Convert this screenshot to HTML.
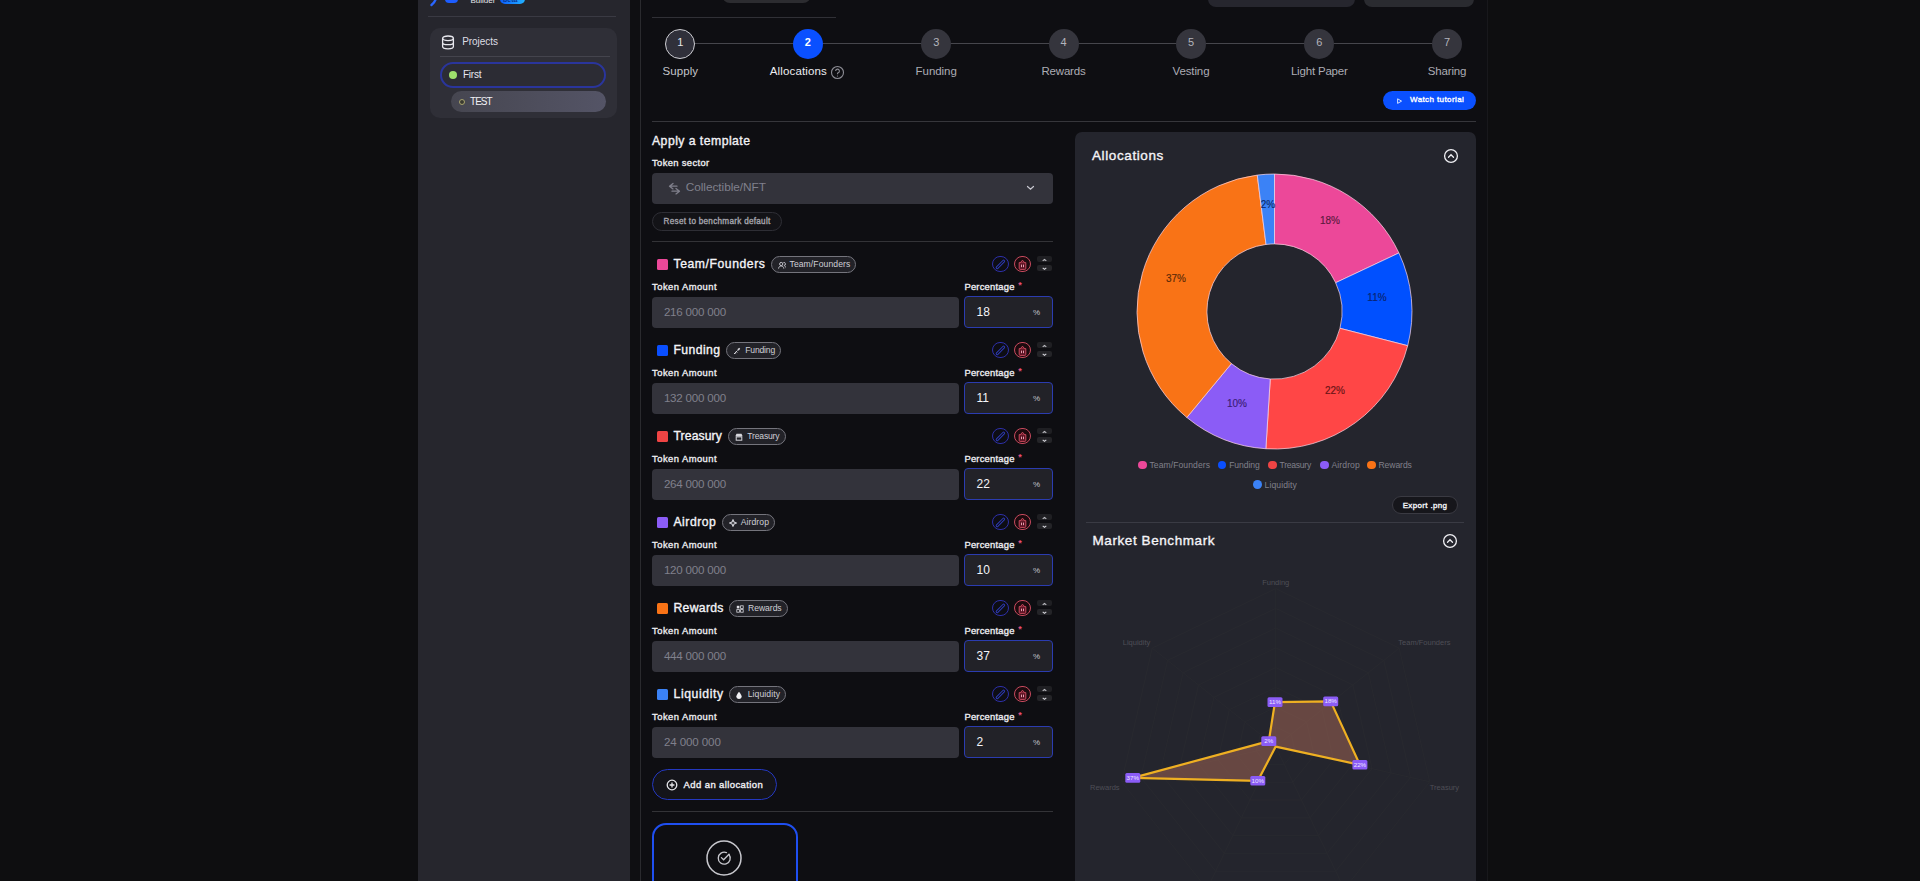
<!DOCTYPE html>
<html><head><meta charset="utf-8"><style>
html,body{margin:0;padding:0;width:1920px;height:881px;overflow:hidden;background:#0e0e10}
body{position:relative;font-family:"Liberation Sans",sans-serif}
.a{position:absolute}
.t{position:absolute;white-space:nowrap;line-height:1}
</style></head><body>
<div class="a" style="left:0.00px;top:0.00px;width:418.00px;height:881.00px;background:#0e0e10"></div>
<div class="a" style="left:418.00px;top:0.00px;width:211.50px;height:881.00px;background:#26262d"></div>
<div class="a" style="left:629.50px;top:0.00px;width:10.50px;height:881.00px;background:#0f0f12"></div>
<div class="a" style="left:640.00px;top:0.00px;width:1.00px;height:881.00px;background:#2a2a2e"></div>
<div class="a" style="left:641.00px;top:0.00px;width:846.00px;height:881.00px;background:#0e0e12"></div>
<div class="a" style="left:1487.00px;top:0.00px;width:1.00px;height:881.00px;background:#18181c"></div>
<div class="a" style="left:1488.00px;top:0.00px;width:432.00px;height:881.00px;background:#0e0e10"></div>
<svg class="a" style="left:425.00px;top:-10.00px;" width="120" height="20" viewBox="0 0 120 20"><path d="M12 3 C11.5 9 10 12.5 6.5 15" stroke="#2a66ff" stroke-width="2.4" fill="none" stroke-linecap="round"/></svg>
<div class="a" style="left:445.00px;top:-10.00px;width:13.00px;height:13.00px;background:#1d5dff;border-radius:0 0 4px 4px"></div>
<div class="t" style="left:470.50px;top:-2.57px;font-size:8px;color:#e6e6ea;">Builder</div>
<div class="a" style="left:500.00px;top:-7.00px;width:25.00px;height:11.00px;background:linear-gradient(90deg,#0b5cff,#22b2ff);border-radius:5px"></div>
<div class="t" style="left:503.00px;top:-3.73px;font-size:7px;color:#0a3690;font-weight:700;">beta</div>
<div class="a" style="left:428.00px;top:16.00px;width:188.00px;height:1.00px;background:#3a3a43"></div>
<div class="a" style="left:430.40px;top:28.30px;width:187.10px;height:90.00px;background:#2f2f37;border-radius:10px"></div>
<svg class="a" style="left:441.00px;top:35.00px;" width="14" height="15" viewBox="0 0 14 15"><ellipse cx="7" cy="3.3" rx="5.4" ry="2.3" stroke="#e8e8ee" stroke-width="1.3" fill="none"/><path d="M1.6 3.3v8.2c0 1.3 2.4 2.3 5.4 2.3s5.4-1 5.4-2.3V3.3M1.6 7.4c0 1.3 2.4 2.3 5.4 2.3s5.4-1 5.4-2.3" stroke="#e8e8ee" stroke-width="1.3" fill="none"/></svg>
<div class="t" style="left:462.20px;top:36.83px;font-size:10px;color:#dedee4;letter-spacing:-0.046px;">Projects</div>
<div class="a" style="left:440.00px;top:56.00px;width:170.00px;height:1.00px;background:#44444d"></div>
<div class="a" style="left:440.30px;top:61.70px;width:165.90px;height:26.30px;background:#2c2c34;border:2px solid #2a359c;border-radius:13px;box-sizing:border-box"></div>
<div class="a" style="left:449.00px;top:71.00px;width:8.20px;height:8.20px;background:#9ee06c;border-radius:50%"></div>
<div class="t" style="left:462.90px;top:70.13px;font-size:10px;color:#e8e8ee;letter-spacing:-0.185px;">First</div>
<div class="a" style="left:451.20px;top:91.00px;width:155.00px;height:21.40px;background:linear-gradient(90deg,#464650,#545466);border-radius:11px"></div>
<div class="a" style="left:458.70px;top:98.60px;width:6.00px;height:6.00px;background:#3a3a30;border:1.5px solid #a7a36e;border-radius:50%;box-sizing:border-box"></div>
<div class="t" style="left:470.00px;top:96.83px;font-size:10px;color:#f0f0f4;letter-spacing:-0.953px;">TEST</div>
<div class="a" style="left:722.00px;top:-20.00px;width:89.00px;height:23.00px;background:#2c2c30;border-radius:8px"></div>
<div class="a" style="left:1208.00px;top:-20.00px;width:147.00px;height:27.30px;background:#26262e;border-radius:8px"></div>
<div class="a" style="left:1364.00px;top:-20.00px;width:110.00px;height:27.00px;background:#2a2b30;border-radius:8px"></div>
<div class="a" style="left:652.00px;top:17.00px;width:184.00px;height:1.00px;background:#303036"></div>
<div class="a" style="left:680.00px;top:43.00px;width:767.00px;height:1.00px;background:#46464c"></div>
<div class="a" style="left:665.10px;top:28.60px;width:30.40px;height:30.40px;background:#30303a;border:1.7px solid #cdcdd2;border-radius:50%;box-sizing:border-box"></div>
<div class="t" style="left:480.30px;width:400px;text-align:center;top:37.09px;font-size:11px;color:#e6e6ea;">1</div>
<div class="t" style="left:480.30px;width:400px;text-align:center;top:66.06px;font-size:11.5px;color:#c4c4ca;letter-spacing:0.067px;">Supply</div>
<div class="a" style="left:792.60px;top:28.60px;width:30.40px;height:30.40px;background:#0a50ff;border-radius:50%"></div>
<div class="t" style="left:607.80px;width:400px;text-align:center;top:37.09px;font-size:11px;color:#ffffff;font-weight:700;">2</div>
<div class="t" style="left:598.40px;width:400px;text-align:center;top:66.06px;font-size:11.5px;color:#ececf0;letter-spacing:0.139px;">Allocations</div>
<svg class="a" style="left:830.00px;top:65.00px;" width="15" height="15" viewBox="0 0 15 15"><circle cx="7.5" cy="7.5" r="6" stroke="#8c8c94" stroke-width="1.1" fill="none"/><path d="M5.6 6a1.9 1.9 0 1 1 2.6 1.8c-.5.2-.7.5-.7 1v.5" stroke="#8c8c94" stroke-width="1.1" fill="none"/><circle cx="7.5" cy="11" r=".6" fill="#8c8c94"/></svg>
<div class="a" style="left:921.20px;top:28.80px;width:30.00px;height:30.00px;background:#35353d;border-radius:50%"></div>
<div class="t" style="left:736.20px;width:400px;text-align:center;top:37.09px;font-size:11px;color:#b4b4bc;">3</div>
<div class="t" style="left:736.20px;width:400px;text-align:center;top:66.06px;font-size:11.5px;color:#acacb4;letter-spacing:-0.060px;">Funding</div>
<div class="a" style="left:1048.50px;top:28.80px;width:30.00px;height:30.00px;background:#35353d;border-radius:50%"></div>
<div class="t" style="left:863.50px;width:400px;text-align:center;top:37.09px;font-size:11px;color:#b4b4bc;">4</div>
<div class="t" style="left:863.50px;width:400px;text-align:center;top:66.06px;font-size:11.5px;color:#acacb4;letter-spacing:-0.180px;">Rewards</div>
<div class="a" style="left:1176.00px;top:28.80px;width:30.00px;height:30.00px;background:#35353d;border-radius:50%"></div>
<div class="t" style="left:991.00px;width:400px;text-align:center;top:37.09px;font-size:11px;color:#b4b4bc;">5</div>
<div class="t" style="left:991.00px;width:400px;text-align:center;top:66.06px;font-size:11.5px;color:#acacb4;letter-spacing:-0.121px;">Vesting</div>
<div class="a" style="left:1304.30px;top:28.80px;width:30.00px;height:30.00px;background:#35353d;border-radius:50%"></div>
<div class="t" style="left:1119.30px;width:400px;text-align:center;top:37.09px;font-size:11px;color:#b4b4bc;">6</div>
<div class="t" style="left:1119.30px;width:400px;text-align:center;top:66.06px;font-size:11.5px;color:#acacb4;letter-spacing:-0.182px;">Light Paper</div>
<div class="a" style="left:1432.00px;top:28.80px;width:30.00px;height:30.00px;background:#35353d;border-radius:50%"></div>
<div class="t" style="left:1247.00px;width:400px;text-align:center;top:37.09px;font-size:11px;color:#b4b4bc;">7</div>
<div class="t" style="left:1247.00px;width:400px;text-align:center;top:66.06px;font-size:11.5px;color:#acacb4;letter-spacing:-0.157px;">Sharing</div>
<div class="a" style="left:1383.00px;top:91.30px;width:92.60px;height:18.70px;background:#0a50ff;border-radius:10px"></div>
<svg class="a" style="left:1396.00px;top:97.00px;" width="8" height="8" viewBox="0 0 8 8"><path d="M1.6 1.8 L5.6 4.1 L1.6 6.4 Z" stroke="#cfe0ff" stroke-width="1" fill="none" stroke-linejoin="round"/></svg>
<div class="t" style="left:1410.00px;top:95.73px;font-size:8px;color:#ffffff;letter-spacing:0.399px;-webkit-text-stroke:0.35px #ffffff;">Watch tutorial</div>
<div class="a" style="left:652.00px;top:120.80px;width:824.00px;height:1.00px;background:#36363b"></div>
<div class="t" style="left:652.00px;top:134.83px;font-size:12.25px;color:#f2f2f6;letter-spacing:0.450px;-webkit-text-stroke:0.35px #f2f2f6;">Apply a template</div>
<div class="t" style="left:652.00px;top:158.44px;font-size:9.4px;color:#ececf0;letter-spacing:0.364px;-webkit-text-stroke:0.35px #ececf0;">Token sector</div>
<div class="a" style="left:652.00px;top:173.00px;width:401.00px;height:31.00px;background:#33333b;border-radius:4px"></div>
<svg class="a" style="left:667.00px;top:181.00px;" width="15" height="14" viewBox="0 0 15 14"><path d="M6 2.5L2.5 5.2L6 7.9M2.5 5.2h7.5M9 7.5l3.5 2.7L9 12.9M12.5 10.2H5" stroke="#80808c" stroke-width="1.3" fill="none" stroke-linecap="round" stroke-linejoin="round"/></svg>
<div class="t" style="left:685.70px;top:182.41px;font-size:11.8px;color:#80808c;letter-spacing:-0.025px;">Collectible/NFT</div>
<svg class="a" style="left:1025.00px;top:184.00px;" width="11" height="8" viewBox="0 0 11 8"><path d="M2.5 2.5l3 2.8L8.5 2.5" stroke="#c8c8d0" stroke-width="1.2" fill="none" stroke-linecap="round"/></svg>
<div class="a" style="left:652.10px;top:212.10px;width:130.10px;height:18.70px;background:#131317;border:1px solid #2e2e35;border-radius:9.5px;box-sizing:border-box"></div>
<div class="t" style="left:663.60px;top:217.70px;font-size:8.15px;color:#a4a4ac;letter-spacing:0.293px;-webkit-text-stroke:0.35px #a4a4ac;">Reset to benchmark default</div>
<div class="a" style="left:652.00px;top:241.40px;width:401.00px;height:1.00px;background:#333337"></div>
<div class="a" style="left:657.10px;top:258.60px;width:11.00px;height:11.00px;background:#ec4899;border-radius:1.5px"></div>
<div class="t" style="left:673.50px;top:258.07px;font-size:12.2px;color:#f4f4f8;letter-spacing:0.561px;-webkit-text-stroke:0.35px #f4f4f8;">Team/Founders</div>
<div class="a" style="left:771.00px;top:256.00px;width:85.30px;height:16.90px;background:#222228;border:1px solid #74747c;border-radius:9px;box-sizing:border-box"></div>
<svg class="a" style="left:777.80px;top:260.50px;" width="8" height="8" viewBox="0 0 8 8"><circle cx="3.2" cy="3" r="1.6" stroke="#d0d0d8" stroke-width="0.9" fill="none"/><path d="M0.6 7.6c0-1.6 1.2-2.6 2.6-2.6s2.6 1 2.6 2.6" stroke="#d0d0d8" stroke-width="0.9" fill="none"/><path d="M5.4 1.6a1.5 1.5 0 1 1 0.5 2.9M6.6 5.2c1 .3 1.8 1.1 1.8 2.4" stroke="#d0d0d8" stroke-width="0.9" fill="none"/></svg>
<div class="t" style="left:789.50px;top:260.32px;font-size:8.6px;color:#cfcfd6;letter-spacing:0.087px;">Team/Founders</div>
<div class="a" style="left:992.40px;top:255.60px;width:16.60px;height:16.60px;border:1.1px solid #2e30a8;border-radius:50%;box-sizing:border-box;background:#0d0d14"></div>
<svg class="a" style="left:992.40px;top:255.60px;" width="17" height="17" viewBox="0 0 17 17"><path d="M5.2 11.6 L11.6 5.2" stroke="#2e3cb8" stroke-width="3" stroke-linecap="round"/><path d="M5.2 11.6 L11.6 5.2" stroke="#0d0d14" stroke-width="1.1" stroke-linecap="round"/></svg>
<div class="a" style="left:1014.20px;top:255.60px;width:16.80px;height:16.80px;border:1.1px solid #c84a5e;border-radius:50%;box-sizing:border-box;background:#1c0a0e"></div>
<svg class="a" style="left:1014.20px;top:255.60px;" width="17" height="17" viewBox="0 0 17 17"><path d="M5.2 6.6h6.6v5.8a1 1 0 0 1-1 1H6.2a1 1 0 0 1-1-1z" stroke="#c84a5e" stroke-width="1" fill="#5a1222"/><path d="M6.4 6.6 L8.5 4.2 L10.6 6.6" stroke="#c84a5e" stroke-width="1" fill="#5a1222"/><path d="M7.5 8.6v2.6M9.5 8.6v2.6" stroke="#e8a0b0" stroke-width="1"/></svg>
<div class="a" style="left:1037.00px;top:255.80px;width:15.00px;height:6.60px;background:#1f1f23;border-radius:2px"></div>
<div class="a" style="left:1037.00px;top:264.90px;width:15.00px;height:6.60px;background:#242428;border-radius:2px"></div>
<svg class="a" style="left:1037.00px;top:255.50px;" width="15" height="17" viewBox="0 0 15 17"><path d="M5.7 4.9l1.8 -1.5l1.8 1.5" stroke="#c0c0c6" stroke-width="1.1" fill="none"/><path d="M5.7 11.9l1.8 1.5l1.8 -1.5" stroke="#d8d8de" stroke-width="1.1" fill="none"/></svg>
<div class="t" style="left:652.10px;top:282.04px;font-size:9.4px;color:#ececf0;letter-spacing:0.457px;-webkit-text-stroke:0.35px #ececf0;">Token Amount</div>
<div class="t" style="left:964.40px;top:282.04px;font-size:9.4px;color:#ececf0;letter-spacing:0.236px;-webkit-text-stroke:0.35px #ececf0;">Percentage</div>
<div class="t" style="left:820.00px;width:400px;text-align:center;top:281.18px;font-size:9px;color:#e8507a;font-weight:700;">*</div>
<div class="a" style="left:652.00px;top:296.60px;width:306.50px;height:31.40px;background:#33333b;border-radius:4px"></div>
<div class="t" style="left:663.90px;top:305.98px;font-size:11.6px;color:#80808c;letter-spacing:-0.221px;">216 000 000</div>
<div class="a" style="left:964.00px;top:296.30px;width:89.00px;height:31.50px;background:#222228;border:1.25px solid #2b3cb0;border-radius:4px;box-sizing:border-box"></div>
<div class="t" style="left:976.50px;top:305.64px;font-size:12px;color:#f4f4f8;">18</div>
<div class="t" style="left:1032.90px;top:308.83px;font-size:8px;color:#c4c4cc;">%</div>
<div class="a" style="left:657.10px;top:344.60px;width:11.00px;height:11.00px;background:#0a4fff;border-radius:1.5px"></div>
<div class="t" style="left:673.50px;top:344.07px;font-size:12.2px;color:#f4f4f8;letter-spacing:0.419px;-webkit-text-stroke:0.35px #f4f4f8;">Funding</div>
<div class="a" style="left:725.80px;top:342.00px;width:55.45px;height:16.90px;background:#222228;border:1px solid #74747c;border-radius:9px;box-sizing:border-box"></div>
<svg class="a" style="left:732.60px;top:346.50px;" width="8" height="8" viewBox="0 0 8 8"><path d="M1 7L4.6 3.4M2.2 5.8l.9.9M3.3 4.7l.9.9" stroke="#d6d6dc" stroke-width="1" fill="none"/><path d="M4.3 2.3L6.3 0.8L7.2 1.7L5.7 3.7Z" fill="#d6d6dc"/></svg>
<div class="t" style="left:745.25px;top:346.32px;font-size:8.6px;color:#cfcfd6;letter-spacing:-0.180px;">Funding</div>
<div class="a" style="left:992.40px;top:341.60px;width:16.60px;height:16.60px;border:1.1px solid #2e30a8;border-radius:50%;box-sizing:border-box;background:#0d0d14"></div>
<svg class="a" style="left:992.40px;top:341.60px;" width="17" height="17" viewBox="0 0 17 17"><path d="M5.2 11.6 L11.6 5.2" stroke="#2e3cb8" stroke-width="3" stroke-linecap="round"/><path d="M5.2 11.6 L11.6 5.2" stroke="#0d0d14" stroke-width="1.1" stroke-linecap="round"/></svg>
<div class="a" style="left:1014.20px;top:341.60px;width:16.80px;height:16.80px;border:1.1px solid #c84a5e;border-radius:50%;box-sizing:border-box;background:#1c0a0e"></div>
<svg class="a" style="left:1014.20px;top:341.60px;" width="17" height="17" viewBox="0 0 17 17"><path d="M5.2 6.6h6.6v5.8a1 1 0 0 1-1 1H6.2a1 1 0 0 1-1-1z" stroke="#c84a5e" stroke-width="1" fill="#5a1222"/><path d="M6.4 6.6 L8.5 4.2 L10.6 6.6" stroke="#c84a5e" stroke-width="1" fill="#5a1222"/><path d="M7.5 8.6v2.6M9.5 8.6v2.6" stroke="#e8a0b0" stroke-width="1"/></svg>
<div class="a" style="left:1037.00px;top:341.80px;width:15.00px;height:6.60px;background:#1f1f23;border-radius:2px"></div>
<div class="a" style="left:1037.00px;top:350.90px;width:15.00px;height:6.60px;background:#242428;border-radius:2px"></div>
<svg class="a" style="left:1037.00px;top:341.50px;" width="15" height="17" viewBox="0 0 15 17"><path d="M5.7 4.9l1.8 -1.5l1.8 1.5" stroke="#c0c0c6" stroke-width="1.1" fill="none"/><path d="M5.7 11.9l1.8 1.5l1.8 -1.5" stroke="#d8d8de" stroke-width="1.1" fill="none"/></svg>
<div class="t" style="left:652.10px;top:368.04px;font-size:9.4px;color:#ececf0;letter-spacing:0.457px;-webkit-text-stroke:0.35px #ececf0;">Token Amount</div>
<div class="t" style="left:964.40px;top:368.04px;font-size:9.4px;color:#ececf0;letter-spacing:0.236px;-webkit-text-stroke:0.35px #ececf0;">Percentage</div>
<div class="t" style="left:820.00px;width:400px;text-align:center;top:367.18px;font-size:9px;color:#e8507a;font-weight:700;">*</div>
<div class="a" style="left:652.00px;top:382.60px;width:306.50px;height:31.40px;background:#33333b;border-radius:4px"></div>
<div class="t" style="left:663.90px;top:391.98px;font-size:11.6px;color:#80808c;letter-spacing:-0.221px;">132 000 000</div>
<div class="a" style="left:964.00px;top:382.30px;width:89.00px;height:31.50px;background:#222228;border:1.25px solid #2b3cb0;border-radius:4px;box-sizing:border-box"></div>
<div class="t" style="left:976.50px;top:391.64px;font-size:12px;color:#f4f4f8;">11</div>
<div class="t" style="left:1032.90px;top:394.83px;font-size:8px;color:#c4c4cc;">%</div>
<div class="a" style="left:657.10px;top:430.60px;width:11.00px;height:11.00px;background:#ef4444;border-radius:1.5px"></div>
<div class="t" style="left:673.50px;top:430.07px;font-size:12.2px;color:#f4f4f8;letter-spacing:0.103px;-webkit-text-stroke:0.35px #f4f4f8;">Treasury</div>
<div class="a" style="left:728.00px;top:428.00px;width:57.60px;height:16.90px;background:#222228;border:1px solid #74747c;border-radius:9px;box-sizing:border-box"></div>
<svg class="a" style="left:734.80px;top:432.50px;" width="8" height="8" viewBox="0 0 8 8"><path d="M0.8 2.2L1.5 0.8h5l.7 1.4v1.2H0.8Z" fill="#d6d6dc"/><rect x="1.2" y="3.9" width="5.6" height="3.3" fill="none" stroke="#d6d6dc" stroke-width="1"/></svg>
<div class="t" style="left:747.30px;top:432.32px;font-size:8.6px;color:#cfcfd6;letter-spacing:-0.187px;">Treasury</div>
<div class="a" style="left:992.40px;top:427.60px;width:16.60px;height:16.60px;border:1.1px solid #2e30a8;border-radius:50%;box-sizing:border-box;background:#0d0d14"></div>
<svg class="a" style="left:992.40px;top:427.60px;" width="17" height="17" viewBox="0 0 17 17"><path d="M5.2 11.6 L11.6 5.2" stroke="#2e3cb8" stroke-width="3" stroke-linecap="round"/><path d="M5.2 11.6 L11.6 5.2" stroke="#0d0d14" stroke-width="1.1" stroke-linecap="round"/></svg>
<div class="a" style="left:1014.20px;top:427.60px;width:16.80px;height:16.80px;border:1.1px solid #c84a5e;border-radius:50%;box-sizing:border-box;background:#1c0a0e"></div>
<svg class="a" style="left:1014.20px;top:427.60px;" width="17" height="17" viewBox="0 0 17 17"><path d="M5.2 6.6h6.6v5.8a1 1 0 0 1-1 1H6.2a1 1 0 0 1-1-1z" stroke="#c84a5e" stroke-width="1" fill="#5a1222"/><path d="M6.4 6.6 L8.5 4.2 L10.6 6.6" stroke="#c84a5e" stroke-width="1" fill="#5a1222"/><path d="M7.5 8.6v2.6M9.5 8.6v2.6" stroke="#e8a0b0" stroke-width="1"/></svg>
<div class="a" style="left:1037.00px;top:427.80px;width:15.00px;height:6.60px;background:#1f1f23;border-radius:2px"></div>
<div class="a" style="left:1037.00px;top:436.90px;width:15.00px;height:6.60px;background:#242428;border-radius:2px"></div>
<svg class="a" style="left:1037.00px;top:427.50px;" width="15" height="17" viewBox="0 0 15 17"><path d="M5.7 4.9l1.8 -1.5l1.8 1.5" stroke="#c0c0c6" stroke-width="1.1" fill="none"/><path d="M5.7 11.9l1.8 1.5l1.8 -1.5" stroke="#d8d8de" stroke-width="1.1" fill="none"/></svg>
<div class="t" style="left:652.10px;top:454.04px;font-size:9.4px;color:#ececf0;letter-spacing:0.457px;-webkit-text-stroke:0.35px #ececf0;">Token Amount</div>
<div class="t" style="left:964.40px;top:454.04px;font-size:9.4px;color:#ececf0;letter-spacing:0.236px;-webkit-text-stroke:0.35px #ececf0;">Percentage</div>
<div class="t" style="left:820.00px;width:400px;text-align:center;top:453.18px;font-size:9px;color:#e8507a;font-weight:700;">*</div>
<div class="a" style="left:652.00px;top:468.60px;width:306.50px;height:31.40px;background:#33333b;border-radius:4px"></div>
<div class="t" style="left:663.90px;top:477.98px;font-size:11.6px;color:#80808c;letter-spacing:-0.221px;">264 000 000</div>
<div class="a" style="left:964.00px;top:468.30px;width:89.00px;height:31.50px;background:#222228;border:1.25px solid #2b3cb0;border-radius:4px;box-sizing:border-box"></div>
<div class="t" style="left:976.50px;top:477.64px;font-size:12px;color:#f4f4f8;">22</div>
<div class="t" style="left:1032.90px;top:480.83px;font-size:8px;color:#c4c4cc;">%</div>
<div class="a" style="left:657.10px;top:516.60px;width:11.00px;height:11.00px;background:#8b5cf6;border-radius:1.5px"></div>
<div class="t" style="left:673.50px;top:516.07px;font-size:12.2px;color:#f4f4f8;letter-spacing:0.495px;-webkit-text-stroke:0.35px #f4f4f8;">Airdrop</div>
<div class="a" style="left:721.90px;top:514.00px;width:53.10px;height:16.90px;background:#222228;border:1px solid #74747c;border-radius:9px;box-sizing:border-box"></div>
<svg class="a" style="left:728.70px;top:518.50px;" width="8" height="8" viewBox="0 0 8 8"><path d="M4 0.6L5 3L7.4 4L5 5L4 7.4L3 5L0.6 4L3 3Z" fill="none" stroke="#d6d6dc" stroke-width="1.1" stroke-linejoin="round"/></svg>
<div class="t" style="left:740.65px;top:518.32px;font-size:8.6px;color:#cfcfd6;letter-spacing:0.104px;">Airdrop</div>
<div class="a" style="left:992.40px;top:513.60px;width:16.60px;height:16.60px;border:1.1px solid #2e30a8;border-radius:50%;box-sizing:border-box;background:#0d0d14"></div>
<svg class="a" style="left:992.40px;top:513.60px;" width="17" height="17" viewBox="0 0 17 17"><path d="M5.2 11.6 L11.6 5.2" stroke="#2e3cb8" stroke-width="3" stroke-linecap="round"/><path d="M5.2 11.6 L11.6 5.2" stroke="#0d0d14" stroke-width="1.1" stroke-linecap="round"/></svg>
<div class="a" style="left:1014.20px;top:513.60px;width:16.80px;height:16.80px;border:1.1px solid #c84a5e;border-radius:50%;box-sizing:border-box;background:#1c0a0e"></div>
<svg class="a" style="left:1014.20px;top:513.60px;" width="17" height="17" viewBox="0 0 17 17"><path d="M5.2 6.6h6.6v5.8a1 1 0 0 1-1 1H6.2a1 1 0 0 1-1-1z" stroke="#c84a5e" stroke-width="1" fill="#5a1222"/><path d="M6.4 6.6 L8.5 4.2 L10.6 6.6" stroke="#c84a5e" stroke-width="1" fill="#5a1222"/><path d="M7.5 8.6v2.6M9.5 8.6v2.6" stroke="#e8a0b0" stroke-width="1"/></svg>
<div class="a" style="left:1037.00px;top:513.80px;width:15.00px;height:6.60px;background:#1f1f23;border-radius:2px"></div>
<div class="a" style="left:1037.00px;top:522.90px;width:15.00px;height:6.60px;background:#242428;border-radius:2px"></div>
<svg class="a" style="left:1037.00px;top:513.50px;" width="15" height="17" viewBox="0 0 15 17"><path d="M5.7 4.9l1.8 -1.5l1.8 1.5" stroke="#c0c0c6" stroke-width="1.1" fill="none"/><path d="M5.7 11.9l1.8 1.5l1.8 -1.5" stroke="#d8d8de" stroke-width="1.1" fill="none"/></svg>
<div class="t" style="left:652.10px;top:540.04px;font-size:9.4px;color:#ececf0;letter-spacing:0.457px;-webkit-text-stroke:0.35px #ececf0;">Token Amount</div>
<div class="t" style="left:964.40px;top:540.04px;font-size:9.4px;color:#ececf0;letter-spacing:0.236px;-webkit-text-stroke:0.35px #ececf0;">Percentage</div>
<div class="t" style="left:820.00px;width:400px;text-align:center;top:539.18px;font-size:9px;color:#e8507a;font-weight:700;">*</div>
<div class="a" style="left:652.00px;top:554.60px;width:306.50px;height:31.40px;background:#33333b;border-radius:4px"></div>
<div class="t" style="left:663.90px;top:563.98px;font-size:11.6px;color:#80808c;letter-spacing:-0.221px;">120 000 000</div>
<div class="a" style="left:964.00px;top:554.30px;width:89.00px;height:31.50px;background:#222228;border:1.25px solid #2b3cb0;border-radius:4px;box-sizing:border-box"></div>
<div class="t" style="left:976.50px;top:563.64px;font-size:12px;color:#f4f4f8;">10</div>
<div class="t" style="left:1032.90px;top:566.83px;font-size:8px;color:#c4c4cc;">%</div>
<div class="a" style="left:657.10px;top:602.60px;width:11.00px;height:11.00px;background:#f97316;border-radius:1.5px"></div>
<div class="t" style="left:673.50px;top:602.07px;font-size:12.2px;color:#f4f4f8;letter-spacing:0.310px;-webkit-text-stroke:0.35px #f4f4f8;">Rewards</div>
<div class="a" style="left:729.20px;top:600.00px;width:58.50px;height:16.90px;background:#222228;border:1px solid #74747c;border-radius:9px;box-sizing:border-box"></div>
<svg class="a" style="left:736.00px;top:604.50px;" width="8" height="8" viewBox="0 0 8 8"><rect x="0.8" y="0.8" width="2.6" height="2.6" fill="#e0e0e6"/><rect x="4.6" y="0.8" width="2.6" height="2.6" fill="none" stroke="#d6d6dc" stroke-width=".8"/><rect x="0.8" y="4.6" width="2.6" height="2.6" fill="none" stroke="#d6d6dc" stroke-width=".8"/><rect x="4.6" y="4.6" width="2.6" height="2.6" fill="none" stroke="#d6d6dc" stroke-width=".8"/></svg>
<div class="t" style="left:748.10px;top:604.32px;font-size:8.6px;color:#cfcfd6;letter-spacing:-0.056px;">Rewards</div>
<div class="a" style="left:992.40px;top:599.60px;width:16.60px;height:16.60px;border:1.1px solid #2e30a8;border-radius:50%;box-sizing:border-box;background:#0d0d14"></div>
<svg class="a" style="left:992.40px;top:599.60px;" width="17" height="17" viewBox="0 0 17 17"><path d="M5.2 11.6 L11.6 5.2" stroke="#2e3cb8" stroke-width="3" stroke-linecap="round"/><path d="M5.2 11.6 L11.6 5.2" stroke="#0d0d14" stroke-width="1.1" stroke-linecap="round"/></svg>
<div class="a" style="left:1014.20px;top:599.60px;width:16.80px;height:16.80px;border:1.1px solid #c84a5e;border-radius:50%;box-sizing:border-box;background:#1c0a0e"></div>
<svg class="a" style="left:1014.20px;top:599.60px;" width="17" height="17" viewBox="0 0 17 17"><path d="M5.2 6.6h6.6v5.8a1 1 0 0 1-1 1H6.2a1 1 0 0 1-1-1z" stroke="#c84a5e" stroke-width="1" fill="#5a1222"/><path d="M6.4 6.6 L8.5 4.2 L10.6 6.6" stroke="#c84a5e" stroke-width="1" fill="#5a1222"/><path d="M7.5 8.6v2.6M9.5 8.6v2.6" stroke="#e8a0b0" stroke-width="1"/></svg>
<div class="a" style="left:1037.00px;top:599.80px;width:15.00px;height:6.60px;background:#1f1f23;border-radius:2px"></div>
<div class="a" style="left:1037.00px;top:608.90px;width:15.00px;height:6.60px;background:#242428;border-radius:2px"></div>
<svg class="a" style="left:1037.00px;top:599.50px;" width="15" height="17" viewBox="0 0 15 17"><path d="M5.7 4.9l1.8 -1.5l1.8 1.5" stroke="#c0c0c6" stroke-width="1.1" fill="none"/><path d="M5.7 11.9l1.8 1.5l1.8 -1.5" stroke="#d8d8de" stroke-width="1.1" fill="none"/></svg>
<div class="t" style="left:652.10px;top:626.04px;font-size:9.4px;color:#ececf0;letter-spacing:0.457px;-webkit-text-stroke:0.35px #ececf0;">Token Amount</div>
<div class="t" style="left:964.40px;top:626.04px;font-size:9.4px;color:#ececf0;letter-spacing:0.236px;-webkit-text-stroke:0.35px #ececf0;">Percentage</div>
<div class="t" style="left:820.00px;width:400px;text-align:center;top:625.18px;font-size:9px;color:#e8507a;font-weight:700;">*</div>
<div class="a" style="left:652.00px;top:640.60px;width:306.50px;height:31.40px;background:#33333b;border-radius:4px"></div>
<div class="t" style="left:663.90px;top:649.98px;font-size:11.6px;color:#80808c;letter-spacing:-0.221px;">444 000 000</div>
<div class="a" style="left:964.00px;top:640.30px;width:89.00px;height:31.50px;background:#222228;border:1.25px solid #2b3cb0;border-radius:4px;box-sizing:border-box"></div>
<div class="t" style="left:976.50px;top:649.64px;font-size:12px;color:#f4f4f8;">37</div>
<div class="t" style="left:1032.90px;top:652.83px;font-size:8px;color:#c4c4cc;">%</div>
<div class="a" style="left:657.10px;top:688.60px;width:11.00px;height:11.00px;background:#3b82f6;border-radius:1.5px"></div>
<div class="t" style="left:673.50px;top:688.07px;font-size:12.2px;color:#f4f4f8;letter-spacing:0.617px;-webkit-text-stroke:0.35px #f4f4f8;">Liquidity</div>
<div class="a" style="left:728.50px;top:686.00px;width:57.50px;height:16.90px;background:#222228;border:1px solid #74747c;border-radius:9px;box-sizing:border-box"></div>
<svg class="a" style="left:735.30px;top:690.50px;" width="8" height="8" viewBox="0 0 8 8"><path d="M4 0.8C4 0.8 1.4 3.8 1.4 5.3a2.6 2.6 0 0 0 5.2 0C6.6 3.8 4 0.8 4 0.8Z" fill="#f0f0f4"/></svg>
<div class="t" style="left:747.70px;top:690.32px;font-size:8.6px;color:#cfcfd6;letter-spacing:0.093px;">Liquidity</div>
<div class="a" style="left:992.40px;top:685.60px;width:16.60px;height:16.60px;border:1.1px solid #2e30a8;border-radius:50%;box-sizing:border-box;background:#0d0d14"></div>
<svg class="a" style="left:992.40px;top:685.60px;" width="17" height="17" viewBox="0 0 17 17"><path d="M5.2 11.6 L11.6 5.2" stroke="#2e3cb8" stroke-width="3" stroke-linecap="round"/><path d="M5.2 11.6 L11.6 5.2" stroke="#0d0d14" stroke-width="1.1" stroke-linecap="round"/></svg>
<div class="a" style="left:1014.20px;top:685.60px;width:16.80px;height:16.80px;border:1.1px solid #c84a5e;border-radius:50%;box-sizing:border-box;background:#1c0a0e"></div>
<svg class="a" style="left:1014.20px;top:685.60px;" width="17" height="17" viewBox="0 0 17 17"><path d="M5.2 6.6h6.6v5.8a1 1 0 0 1-1 1H6.2a1 1 0 0 1-1-1z" stroke="#c84a5e" stroke-width="1" fill="#5a1222"/><path d="M6.4 6.6 L8.5 4.2 L10.6 6.6" stroke="#c84a5e" stroke-width="1" fill="#5a1222"/><path d="M7.5 8.6v2.6M9.5 8.6v2.6" stroke="#e8a0b0" stroke-width="1"/></svg>
<div class="a" style="left:1037.00px;top:685.80px;width:15.00px;height:6.60px;background:#1f1f23;border-radius:2px"></div>
<div class="a" style="left:1037.00px;top:694.90px;width:15.00px;height:6.60px;background:#242428;border-radius:2px"></div>
<svg class="a" style="left:1037.00px;top:685.50px;" width="15" height="17" viewBox="0 0 15 17"><path d="M5.7 4.9l1.8 -1.5l1.8 1.5" stroke="#c0c0c6" stroke-width="1.1" fill="none"/><path d="M5.7 11.9l1.8 1.5l1.8 -1.5" stroke="#d8d8de" stroke-width="1.1" fill="none"/></svg>
<div class="t" style="left:652.10px;top:712.04px;font-size:9.4px;color:#ececf0;letter-spacing:0.457px;-webkit-text-stroke:0.35px #ececf0;">Token Amount</div>
<div class="t" style="left:964.40px;top:712.04px;font-size:9.4px;color:#ececf0;letter-spacing:0.236px;-webkit-text-stroke:0.35px #ececf0;">Percentage</div>
<div class="t" style="left:820.00px;width:400px;text-align:center;top:711.18px;font-size:9px;color:#e8507a;font-weight:700;">*</div>
<div class="a" style="left:652.00px;top:726.60px;width:306.50px;height:31.40px;background:#33333b;border-radius:4px"></div>
<div class="t" style="left:663.90px;top:735.98px;font-size:11.6px;color:#80808c;letter-spacing:-0.118px;">24 000 000</div>
<div class="a" style="left:964.00px;top:726.30px;width:89.00px;height:31.50px;background:#222228;border:1.25px solid #2b3cb0;border-radius:4px;box-sizing:border-box"></div>
<div class="t" style="left:976.50px;top:735.64px;font-size:12px;color:#f4f4f8;">2</div>
<div class="t" style="left:1032.90px;top:738.83px;font-size:8px;color:#c4c4cc;">%</div>
<div class="a" style="left:652.00px;top:769.30px;width:125.00px;height:31.20px;background:#141419;border:1.3px solid #2438c0;border-radius:16px;box-sizing:border-box"></div>
<svg class="a" style="left:666.00px;top:778.50px;" width="12" height="12" viewBox="0 0 12 12"><circle cx="6" cy="6" r="4.8" stroke="#e6e6ea" stroke-width="1.3" fill="none"/><path d="M6 3.6v4.8M3.6 6h4.8" stroke="#e6e6ea" stroke-width="1.3"/></svg>
<div class="t" style="left:683.60px;top:780.36px;font-size:9.5px;color:#f0f0f4;letter-spacing:0.394px;-webkit-text-stroke:0.35px #f0f0f4;">Add an allocation</div>
<div class="a" style="left:652.00px;top:810.80px;width:401.00px;height:1.00px;background:#333337"></div>
<div class="a" style="left:652.00px;top:823.00px;width:145.50px;height:97.00px;border:2px solid #1f4ff0;border-radius:14px;box-sizing:border-box"></div>
<svg class="a" style="left:706.00px;top:839.50px;" width="36" height="36" viewBox="0 0 36 36"><circle cx="18" cy="18" r="17" stroke="#c8c8ce" stroke-width="1.5" fill="none"/><path d="M23 14.5A6 6 0 1 1 20.5 12.6" stroke="#c8c8ce" stroke-width="1.3" fill="none" stroke-linecap="round"/><path d="M15.4 17.6l2.2 2.2l5.4 -5.6" stroke="#c8c8ce" stroke-width="1.3" fill="none" stroke-linecap="round"/></svg>
<div class="a" style="left:1074.80px;top:132.20px;width:401.20px;height:797.80px;background:#24252d;border-radius:7px"></div>
<div class="t" style="left:1092.00px;top:148.97px;font-size:13.5px;color:#f4f4f8;letter-spacing:0.602px;-webkit-text-stroke:0.35px #f4f4f8;">Allocations</div>
<svg class="a" style="left:1442.50px;top:148.20px;" width="16" height="16" viewBox="0 0 16 16"><circle cx="8" cy="8" r="6.4" stroke="#f0f0f4" stroke-width="1.3" fill="none"/><path d="M5.5 9.2L8 6.7l2.5 2.5" stroke="#f0f0f4" stroke-width="1.3" fill="none" stroke-linecap="round"/></svg>
<svg class="a" style="left:1135.20px;top:171.50px;" width="279.0" height="279.0" viewBox="0 0 279.0 279.0"><path d="M139.50 2.00 A137.5 137.5 0 0 1 263.91 80.96 L200.67 110.72 A67.6 67.6 0 0 0 139.50 71.90 Z" fill="#ec4899" stroke="rgba(255,215,230,0.7)" stroke-width="1"/><path d="M263.91 80.96 A137.5 137.5 0 0 1 272.68 173.69 L204.98 156.31 A67.6 67.6 0 0 0 200.67 110.72 Z" fill="#0050ff" stroke="rgba(255,215,230,0.7)" stroke-width="1"/><path d="M272.68 173.69 A137.5 137.5 0 0 1 130.87 276.73 L135.26 206.97 A67.6 67.6 0 0 0 204.98 156.31 Z" fill="#ff4646" stroke="rgba(255,215,230,0.7)" stroke-width="1"/><path d="M130.87 276.73 A137.5 137.5 0 0 1 51.85 245.45 L96.41 191.59 A67.6 67.6 0 0 0 135.26 206.97 Z" fill="#8b5cf6" stroke="rgba(255,215,230,0.7)" stroke-width="1"/><path d="M51.85 245.45 A137.5 137.5 0 0 1 122.27 3.08 L131.03 72.43 A67.6 67.6 0 0 0 96.41 191.59 Z" fill="#f97316" stroke="rgba(255,215,230,0.7)" stroke-width="1"/><path d="M122.27 3.08 A137.5 137.5 0 0 1 139.50 2.00 L139.50 71.90 A67.6 67.6 0 0 0 131.03 72.43 Z" fill="#3b82f6" stroke="rgba(255,215,230,0.7)" stroke-width="1"/></svg>
<div class="t" style="left:1130.00px;width:400px;text-align:center;top:215.53px;font-size:10px;color:#5a1a3d;-webkit-text-stroke:0.15px #5a1a3d;">18%</div>
<div class="t" style="left:1177.00px;width:400px;text-align:center;top:292.53px;font-size:10px;color:#0a2470;-webkit-text-stroke:0.15px #0a2470;">11%</div>
<div class="t" style="left:1135.00px;width:400px;text-align:center;top:385.53px;font-size:10px;color:#6a1416;-webkit-text-stroke:0.15px #6a1416;">22%</div>
<div class="t" style="left:1037.00px;width:400px;text-align:center;top:398.53px;font-size:10px;color:#3a1d75;-webkit-text-stroke:0.15px #3a1d75;">10%</div>
<div class="t" style="left:976.00px;width:400px;text-align:center;top:273.53px;font-size:10px;color:#5a2a08;-webkit-text-stroke:0.15px #5a2a08;">37%</div>
<div class="t" style="left:1068.00px;width:400px;text-align:center;top:199.53px;font-size:10px;color:#0b2a6a;-webkit-text-stroke:0.15px #0b2a6a;">2%</div>
<div class="a" style="left:1138.00px;top:460.60px;width:8.80px;height:8.80px;background:#ec4899;border-radius:50%"></div>
<div class="t" style="left:1149.50px;top:461.32px;font-size:8.6px;color:#80808a;letter-spacing:0.062px;">Team/Founders</div>
<div class="a" style="left:1217.70px;top:460.60px;width:8.80px;height:8.80px;background:#0a4fff;border-radius:50%"></div>
<div class="t" style="left:1229.20px;top:461.32px;font-size:8.6px;color:#80808a;letter-spacing:-0.080px;">Funding</div>
<div class="a" style="left:1268.00px;top:460.60px;width:8.80px;height:8.80px;background:#ef4444;border-radius:50%"></div>
<div class="t" style="left:1279.50px;top:461.32px;font-size:8.6px;color:#80808a;letter-spacing:-0.273px;">Treasury</div>
<div class="a" style="left:1320.00px;top:460.60px;width:8.80px;height:8.80px;background:#8b5cf6;border-radius:50%"></div>
<div class="t" style="left:1331.50px;top:461.32px;font-size:8.6px;color:#80808a;letter-spacing:0.096px;">Airdrop</div>
<div class="a" style="left:1367.00px;top:460.60px;width:8.80px;height:8.80px;background:#f97316;border-radius:50%"></div>
<div class="t" style="left:1378.50px;top:461.32px;font-size:8.6px;color:#80808a;letter-spacing:-0.089px;">Rewards</div>
<div class="a" style="left:1253.00px;top:480.10px;width:8.80px;height:8.80px;background:#3b82f6;border-radius:50%"></div>
<div class="t" style="left:1264.60px;top:480.72px;font-size:8.6px;color:#80808a;letter-spacing:0.081px;">Liquidity</div>
<div class="a" style="left:1391.70px;top:496.40px;width:66.80px;height:17.80px;background:#16161b;border:1px solid #3a3a42;border-radius:9px;box-sizing:border-box"></div>
<div class="t" style="left:1402.70px;top:502.03px;font-size:8px;color:#f4f4f8;letter-spacing:0.339px;-webkit-text-stroke:0.35px #f4f4f8;">Export .png</div>
<div class="a" style="left:1086.00px;top:522.00px;width:378.00px;height:1.00px;background:#3a3b44"></div>
<div class="t" style="left:1092.50px;top:533.67px;font-size:13.5px;color:#f4f4f8;letter-spacing:0.581px;-webkit-text-stroke:0.35px #f4f4f8;">Market Benchmark</div>
<svg class="a" style="left:1442.40px;top:532.50px;" width="16" height="16" viewBox="0 0 16 16"><circle cx="8" cy="8" r="6.4" stroke="#f0f0f4" stroke-width="1.3" fill="none"/><path d="M5.5 9.2L8 6.7l2.5 2.5" stroke="#f0f0f4" stroke-width="1.3" fill="none" stroke-linecap="round"/></svg>
<div class="t" style="left:1075.70px;width:400px;text-align:center;top:578.95px;font-size:7.5px;color:#4e4e56;">Funding</div>
<div class="t" style="left:936.50px;width:400px;text-align:center;top:639.05px;font-size:7.5px;color:#4e4e56;">Liquidity</div>
<div class="t" style="left:1224.40px;width:400px;text-align:center;top:639.05px;font-size:7.5px;color:#4e4e56;">Team/Founders</div>
<div class="t" style="left:904.80px;width:400px;text-align:center;top:784.15px;font-size:7.5px;color:#4e4e56;">Rewards</div>
<div class="t" style="left:1244.40px;width:400px;text-align:center;top:784.15px;font-size:7.5px;color:#4e4e56;">Treasury</div>
<svg class="a" style="left:1080.00px;top:560.00px;" width="390" height="330" viewBox="0 0 390 330"><polygon points="195.7,166.9 211.1,174.3 215.0,191.0 204.3,204.4 187.1,204.4 176.4,191.0 180.3,174.3" fill="none" stroke="#28292f" stroke-width="1"/><polygon points="195.7,147.1 226.6,162.0 234.2,195.4 212.8,222.2 178.6,222.2 157.2,195.4 164.8,162.0" fill="none" stroke="#28292f" stroke-width="1"/><polygon points="195.7,127.4 242.0,149.7 253.5,199.8 221.4,240.0 170.0,240.0 137.9,199.8 149.4,149.7" fill="none" stroke="#28292f" stroke-width="1"/><polygon points="195.7,107.6 257.5,137.3 272.7,204.2 230.0,257.8 161.4,257.8 118.7,204.2 133.9,137.3" fill="none" stroke="#28292f" stroke-width="1"/><polygon points="195.7,87.9 272.9,125.0 292.0,208.6 238.5,275.6 152.9,275.6 99.4,208.6 118.5,125.0" fill="none" stroke="#28292f" stroke-width="1"/><polygon points="195.7,68.1 288.3,112.7 311.2,213.0 247.1,293.4 144.3,293.4 80.2,213.0 103.1,112.7" fill="none" stroke="#28292f" stroke-width="1"/><polygon points="195.7,48.4 303.8,100.4 330.5,217.4 255.7,311.2 135.7,311.2 60.9,217.4 87.6,100.4" fill="none" stroke="#28292f" stroke-width="1"/><polygon points="195.7,28.6 319.2,88.1 349.7,221.8 264.3,329.0 127.1,329.0 41.7,221.8 72.2,88.1" fill="none" stroke="#28292f" stroke-width="1"/><line x1="195.7" y1="186.6" x2="195.7" y2="28.6" stroke="#28292f" stroke-width="1"/><line x1="195.7" y1="186.6" x2="319.2" y2="88.1" stroke="#28292f" stroke-width="1"/><line x1="195.7" y1="186.6" x2="349.7" y2="221.8" stroke="#28292f" stroke-width="1"/><line x1="195.7" y1="186.6" x2="264.3" y2="329.0" stroke="#28292f" stroke-width="1"/><line x1="195.7" y1="186.6" x2="127.1" y2="329.0" stroke="#28292f" stroke-width="1"/><line x1="195.7" y1="186.6" x2="41.7" y2="221.8" stroke="#28292f" stroke-width="1"/><line x1="195.7" y1="186.6" x2="72.2" y2="88.1" stroke="#28292f" stroke-width="1"/><polygon points="195.0,142.1 250.7,141.4 279.9,204.8 195.7,186.6 177.8,220.8 52.8,217.9 188.8,181.1" fill="rgba(170,105,88,0.5)" stroke="#efb022" stroke-width="2.2" stroke-linejoin="round"/><rect x="187.5" y="137.3" width="15" height="9.6" rx="1.5" fill="#8b5cf6"/><rect x="243.2" y="136.6" width="15" height="9.6" rx="1.5" fill="#8b5cf6"/><rect x="272.4" y="200.0" width="15" height="9.6" rx="1.5" fill="#8b5cf6"/><rect x="170.3" y="216.0" width="15" height="9.6" rx="1.5" fill="#8b5cf6"/><rect x="45.3" y="213.1" width="15" height="9.6" rx="1.5" fill="#8b5cf6"/><rect x="181.3" y="176.3" width="15" height="9.6" rx="1.5" fill="#8b5cf6"/></svg>
<div class="t" style="left:1075.00px;width:400px;text-align:center;top:699.15px;font-size:6.2px;color:#ece6ff;">11%</div>
<div class="t" style="left:1130.70px;width:400px;text-align:center;top:698.45px;font-size:6.2px;color:#ece6ff;">18%</div>
<div class="t" style="left:1159.90px;width:400px;text-align:center;top:761.85px;font-size:6.2px;color:#ece6ff;">22%</div>
<div class="t" style="left:1057.80px;width:400px;text-align:center;top:777.85px;font-size:6.2px;color:#ece6ff;">10%</div>
<div class="t" style="left:932.80px;width:400px;text-align:center;top:774.95px;font-size:6.2px;color:#ece6ff;">37%</div>
<div class="t" style="left:1068.80px;width:400px;text-align:center;top:738.15px;font-size:6.2px;color:#ece6ff;">2%</div>
</body></html>
